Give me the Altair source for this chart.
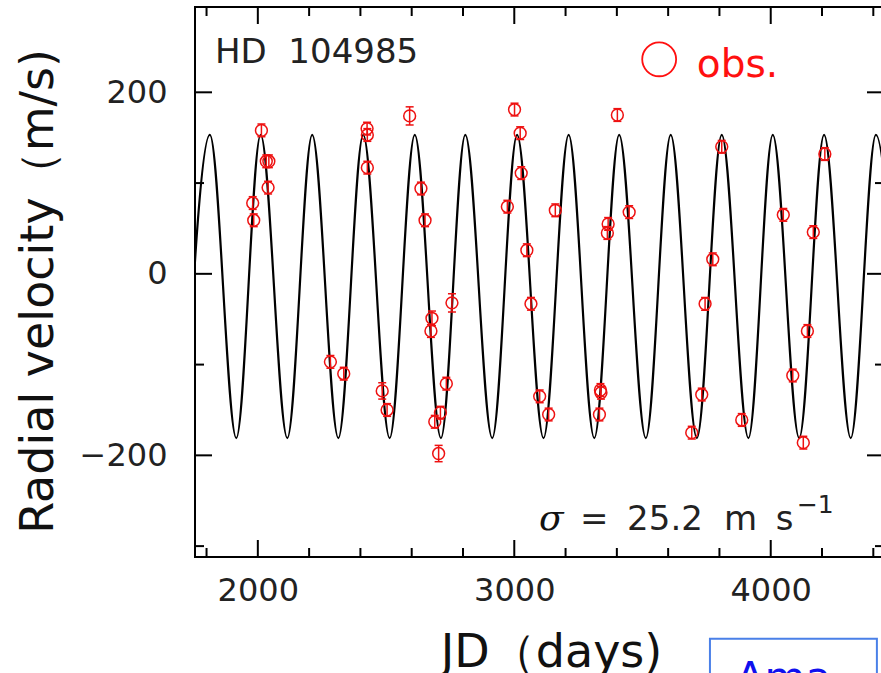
import altair as alt
import pandas as pd

# ---- model curve: extrema (JD, RV) ----
peak_days = [1813, 2011, 2212, 2411, 2612, 2809, 3011, 3212, 3409, 3610, 3809, 4008, 4208, 4410]
trough_days = [1714, 1916, 2115, 2314, 2514, 2714, 2914, 3114, 3312, 3513, 3712, 3913, 4111, 4312, 4511]
peak_rv = 153
trough_rv = -181

# ---- observations ----
obs_jd = [1980, 1984, 2014, 2033, 2043, 2040, 2283, 2335, 2426, 2427, 2427, 2485, 2504,
          2592, 2636, 2652, 2675, 2679, 2690, 2705, 2712, 2735, 2757, 2973, 3001, 3023,
          3027, 3049, 3065, 3099, 3134, 3160, 3332, 3336, 3338, 3363, 3366, 3402, 3448,
          3692, 3731, 3744, 3774, 3809, 3887, 4049, 4086, 4127, 4143, 4166, 4211]
obs_rv = [78, 59, 158, 124, 124, 95, -97, -110, 160, 153, 117, -129, -150,
          174, 94, 59, -63, -49, -163, -198, -153, -121, -32, 74, 181, 155,
          111, 26, -33, -135, -155, 70, -155, -128, -131, 45, 55, 175, 68,
          -175, -133, -33, 16, 140, -161, 65, -112, -186, -63, 46, 132]
obs_err = [7, 7, 7, 7, 7, 7, 7, 7, 7, 7, 7, 9, 7,
           10, 7, 7, 7, 8, 7, 9, 7, 7, 10, 7, 7, 7,
           7, 7, 7, 7, 7, 7, 7, 7, 7, 7, 7, 7, 7,
           7, 7, 7, 7, 7, 7, 7, 7, 7, 7, 7, 7]

# ---- ticks / labels ----
x_labels = [2000, 3000, 4000]
x_minor = [1800, 2200, 2400, 2600, 2800, 3200, 3400, 3600, 3800, 4200, 4400]
y_labels = [-200, 0, 200]
y_minor = [-300, -100, 100]

W, H = 686, 550
RED = "#ee1111"
FONT = "DejaVu Sans"

xs = alt.Scale(domain=[1755, 4430], nice=False, zero=False)
ys = alt.Scale(domain=[-312, 294], nice=False, zero=False)

x_axis = alt.Axis(
    values=x_labels, format="d", title="JD（days)", domain=False, ticks=False, tickSize=0,
    grid=False, labelFont=FONT, labelFontSize=32, labelColor="#222222",
    labelPadding=18, labelFlush=False, labelOverlap=False,
    titleFont=FONT, titleFontSize=46, titleFontWeight="normal", titleColor="#111111",
    titleX=356, titleY=109, titleAlign="center", titleBaseline="alphabetic")
y_axis = alt.Axis(
    values=y_labels, format="d", title="Radial velocity（m/s)", domain=False, ticks=False,
    tickSize=0, grid=False, labelFont=FONT, labelFontSize=32, labelColor="#222222",
    labelPadding=28, labelFlush=False, labelOverlap=False,
    titleFont=FONT, titleFontSize=46, titleFontWeight="normal", titleColor="#111111",
    titleAngle=270, titleX=-143, titleY=284, titleAlign="center",
    titleBaseline="alphabetic")


def X(field):
    return alt.X(field, scale=xs, axis=x_axis)


def Y(field):
    return alt.Y(field, scale=ys, axis=y_axis)


curve_df = pd.DataFrame(
    {"day": peak_days + trough_days,
     "rv": [peak_rv] * len(peak_days) + [trough_rv] * len(trough_days)}
).sort_values("day")

obs_df = pd.DataFrame({"jd": obs_jd, "rv": obs_rv, "err": obs_err})
obs_df["lo"] = obs_df["rv"] - obs_df["err"]
obs_df["hi"] = obs_df["rv"] + obs_df["err"]

curve = alt.Chart(curve_df).mark_line(
    color="black", strokeWidth=2.2, interpolate="monotone", clip=True
).encode(x=X("day:Q"), y=Y("rv:Q"))

err_rule = alt.Chart(obs_df).mark_rule(color=RED, strokeWidth=1.5).encode(
    x=X("jd:Q"), y=Y("lo:Q"), y2="hi:Q")
cap_hi = alt.Chart(obs_df).mark_tick(
    color=RED, orient="horizontal", size=8, thickness=1.5, opacity=1
).encode(x=X("jd:Q"), y=Y("hi:Q"))
cap_lo = alt.Chart(obs_df).mark_tick(
    color=RED, orient="horizontal", size=8, thickness=1.5, opacity=1
).encode(x=X("jd:Q"), y=Y("lo:Q"))
points = alt.Chart(obs_df).mark_point(
    shape="circle", filled=False, color=RED, size=140, strokeWidth=1.5, opacity=1
).encode(x=X("jd:Q"), y=Y("rv:Q"))

# ---- frame and inward ticks ----
one = pd.DataFrame({"a": [0]})
frame = alt.Chart(one).mark_rect(
    fillOpacity=0, stroke="black", strokeWidth=2
).encode(x=alt.value(0), x2=alt.value(W + 3), y=alt.value(0), y2=alt.value(H))

xmaj_df = pd.DataFrame({"t": x_labels})
xmin_df = pd.DataFrame({"t": x_minor})
ymaj_df = pd.DataFrame({"t": y_labels})
ymin_df = pd.DataFrame({"t": y_minor})


def xticks(df, length):
    b = alt.Chart(df).mark_rule(color="black", strokeWidth=2).encode(
        x=X("t:Q"), y=alt.value(H), y2=alt.value(H - length))
    t = alt.Chart(df).mark_rule(color="black", strokeWidth=2).encode(
        x=X("t:Q"), y=alt.value(0), y2=alt.value(length))
    return [b, t]


def yticks(df, length):
    l = alt.Chart(df).mark_rule(color="black", strokeWidth=2).encode(
        y=Y("t:Q"), x=alt.value(0), x2=alt.value(length))
    r = alt.Chart(df).mark_rule(color="black", strokeWidth=2).encode(
        y=Y("t:Q"), x=alt.value(W + 3), x2=alt.value(W + 3 - length))
    return [l, r]


tick_layers = xticks(xmaj_df, 17) + xticks(xmin_df, 9) + yticks(ymaj_df, 17) + yticks(ymin_df, 9)


# ---- annotations ----
def note(text, day, val, size, font=FONT, color="#111111", style="normal", align="left"):
    df = pd.DataFrame({"day": [day], "val": [val], "label": [text]})
    return alt.Chart(df).mark_text(
        font=font, fontSize=size, color=color, fontStyle=style, align=align,
        baseline="alphabetic"
    ).encode(x=X("day:Q"), y=Y("val:Q"), text="label:N")


notes = [
    note("HD\u00a0\u00a0104985", 1833, 232.3, 34, color="#222222"),
    note("σ", 3096, -282.3, 36, font="DejaVu Serif", style="italic"),
    note("=", 3256, -282.3, 34, color="#222222"),
    note("25.2", 3440, -282.3, 34, color="#222222"),
    note("m", 3818, -282.3, 34, color="#222222"),
    note("s", 4020, -282.3, 34, color="#222222"),
    note("−1", 4102, -263.9, 25, color="#222222"),
    note("obs.", 3712, 217.2, 39, color="#ff1010"),
]

legend_df = pd.DataFrame({"day": [3565], "val": [236.4]})
legend_circle = alt.Chart(legend_df).mark_point(
    shape="circle", filled=False, color="#ff1010", size=1150, strokeWidth=1.8, opacity=1
).encode(x=X("day:Q"), y=Y("val:Q"))

# stray box visible at the bottom right of the picture
box_df = pd.DataFrame({"x1": [3763], "x2": [4414], "y1": [-402], "y2": [-470]})
box = alt.Chart(box_df).mark_rect(
    fill="white", stroke="#4a80e8", strokeWidth=2
).encode(x=X("x1:Q"), x2="x2:Q", y=Y("y1:Q"), y2="y2:Q")
box_text = note("Ama", 3864, -461, 42, color="#1010ee")

chart = alt.layer(
    curve, err_rule, cap_hi, cap_lo, points, frame, *tick_layers, *notes,
    legend_circle, box, box_text
).properties(
    width=W, height=H,
    padding={"left": 195, "top": 7, "right": 0, "bottom": 116},
    autosize=alt.AutoSizeParams(type="none"),
    background="white",
).configure_view(stroke=None)

chart.save("out.html", embed_options={"renderer": "svg", "actions": False})
